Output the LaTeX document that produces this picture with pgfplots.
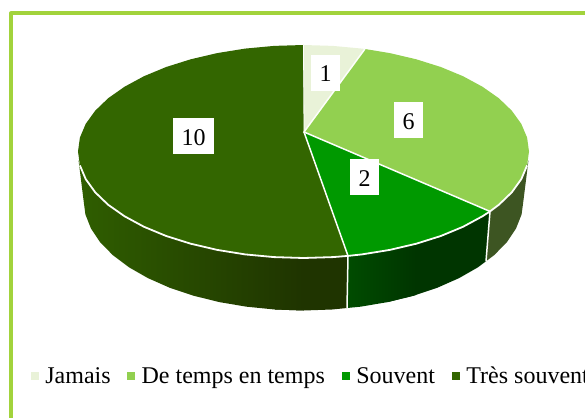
\documentclass[border=0pt]{standalone}
\usepackage{fontspec}
\setmainfont{Liberation Serif}
\usepackage{pgfplots}
\pgfplotsset{compat=1.18}
\definecolor{frame}{HTML}{A2D33C}
\definecolor{cJ}{HTML}{E9F2D8}
\definecolor{cD}{HTML}{92D050}
\definecolor{cS}{HTML}{009900}
\definecolor{cT}{HTML}{336600}
\definecolor{sideD}{HTML}{3D5522}
\definecolor{sideSa}{HTML}{004C00}
\definecolor{sideSb}{HTML}{003500}
\definecolor{sideTa}{HTML}{2F5E00}
\definecolor{sideTb}{HTML}{1F3400}
\begin{document}
\begin{tikzpicture}
\path[use as bounding box,clip] (0,0) rectangle (585pt,417pt);
\begin{axis}[
  at={(0,0)},anchor=south west,
  scale only axis,width=585pt,height=417pt,
  xmin=0,xmax=585,ymin=0,ymax=417,y dir=reverse,
  hide axis,
  legend columns=-1,
  legend cell align=left,
  legend style={at={(0.053,0.0976)},anchor=west,draw=none,fill=none,inner sep=0pt,outer sep=0pt,
    font=\fontsize{24}{28}\selectfont,
    nodes={inner xsep=0pt},
    /tikz/every odd column/.append style={column sep=7pt},
    /tikz/every even column/.append style={column sep=0pt}},
  legend image code/.code={\fill[#1] (0pt,-2.5pt) rectangle (7pt,4.5pt);},
]
% frame
\addplot[forget plot,frame,line width=4pt,line join=round,no marks] coordinates {(11,420)(11,13.4)(590,13.4)};

% side: Tres souvent
\addplot[forget plot,fill=sideTb,draw=none,no marks] coordinates {
(274.1,257.1)(303.5,258.0)(332.9,257.1)(348,255.9)(347,308)(332.2,309.5)(303.5,310.5)(274.8,309.5)};
\addplot[forget plot,left color=sideTa,right color=sideTb,draw=none,no marks] coordinates {
(78.5,160)(83.5,200.0)(85.4,214.4)(91.0,228.6)(100.2,242.3)(113.0,255.3)(129.0,267.3)(147.9,278.1)(169.6,287.7)(193.5,295.7)(219.3,302.1)(246.6,306.7)(274.8,309.5)(303.5,310.5)
(303.5,258.0)(274.1,257.1)(245.1,254.4)(217.2,249.9)(190.7,243.7)(166.2,236.0)(144.0,226.8)(124.6,216.3)(108.2,204.8)(95.2,192.3)(85.7,179.1)(79.9,165.4)};
% side: Souvent
\addplot[forget plot,fill=sideSb,draw=none,no marks] coordinates {
(389.8,249.9)(416.3,243.7)(440.8,236.0)(463.0,226.8)(482.4,216.3)(490,211.4)(486,261.3)(478.0,267.3)(459.1,278.1)(437.4,287.7)(413.5,295.7)(387.7,302.1)};
\addplot[forget plot,left color=sideSa,right color=sideSb,draw=none,no marks] coordinates {
(348,255.9)(361.9,254.4)(389.8,249.9)(416.3,243.7)(416.3,294.9)(413.5,295.7)(387.7,302.1)(360.4,306.7)(347,308)};
% side: De temps en temps
\addplot[forget plot,fill=sideD,draw=none,no marks] coordinates {
(490,211.4)(498.8,204.8)(511.8,192.3)(521.3,179.1)(527.1,165.4)(528.5,160)(523.5,200.0)(521.6,214.4)(516.0,228.6)(506.8,242.3)(494.0,255.3)(486,261.3)};

% top: Tres souvent
\addplot[forget plot,fill=cT,draw=none,no marks] coordinates {
(304,132)(348,255.9)(332.9,257.1)(303.5,258.0)(274.1,257.1)(245.1,254.4)(217.2,249.9)(190.7,243.7)(166.2,236.0)(144.0,226.8)(124.6,216.3)(108.2,204.8)(95.2,192.3)(85.7,179.1)(79.9,165.4)(78.0,151.5)
(79.9,137.6)(85.7,123.9)(95.2,110.7)(108.2,98.2)(124.6,86.7)(144.0,76.2)(166.2,67.0)(190.7,59.3)(217.2,53.1)(245.1,48.6)(274.1,45.9)(303.5,45.0)};
% top: Jamais
\addplot[forget plot,fill=cJ,draw=none,no marks] coordinates {
(304,132)(303.5,45.0)(332.9,45.9)(361.9,48.6)(364.9,49.0)};
% top: De temps en temps
\addplot[forget plot,fill=cD,draw=none,no marks] coordinates {
(304,132)(364.9,49.0)(389.8,53.1)(416.3,59.3)(440.8,67.0)(463.0,76.2)(482.4,86.7)(498.8,98.2)(511.8,110.7)(521.3,123.9)(527.1,137.6)(529.0,151.5)(527.1,165.4)(521.3,179.1)(511.8,192.3)(498.8,204.8)(490,211.4)};
% top: Souvent
\addplot[forget plot,fill=cS,draw=none,no marks] coordinates {
(304,132)(490,211.4)(482.4,216.3)(463.0,226.8)(440.8,236.0)(416.3,243.7)(389.8,249.9)(361.9,254.4)(348,255.9)};

% white separators
\addplot[forget plot,white!90!cJ,line width=1.8pt,no marks,line join=round] coordinates {
(79.9,165.4)(85.7,179.1)(95.2,192.3)(108.2,204.8)(124.6,216.3)(144.0,226.8)(166.2,236.0)(190.7,243.7)(217.2,249.9)(245.1,254.4)(274.1,257.1)(303.5,258.0)(332.9,257.1)(348,255.9)(361.9,254.4)(389.8,249.9)(416.3,243.7)(440.8,236.0)(463.0,226.8)(482.4,216.3)(490,211.4)(498.8,204.8)(511.8,192.3)(521.3,179.1)(527.1,165.4)};
\addplot[forget plot,white!90!cJ,line width=1.5pt,no marks] coordinates {(364.9,49.0)(304,132)(490,211.4)};
\addplot[forget plot,white!90!cJ,line width=1.5pt,no marks] coordinates {(304,132)(348,255.9)};
\addplot[forget plot,white!90!cJ,line width=0.8pt,no marks] coordinates {(304,132)(303.5,45.0)};
\addplot[forget plot,white!90!cJ,line width=1.5pt,no marks] coordinates {(348,255.9)(347,308)};
\addplot[forget plot,white!90!cJ,line width=1.5pt,no marks] coordinates {(490,211.4)(486,261.3)};

% data labels
\addplot[forget plot,draw=none,no marks,
  nodes near coords,point meta=explicit symbolic,
  nodes near coords align={center},
  every node near coord/.append style={anchor=center,fill=white,text=black,
    font=\fontsize{24}{28}\selectfont,inner xsep=8.5pt,inner ysep=0pt,minimum height=36pt,text height=18pt,text depth=0pt}]
  table[x=x,y=y,meta=v] {
x y v
325.5 73 1
408.5 120 6
364.5 177 2
193.5 136 10
};

\addlegendimage{cJ}\addlegendentry{Jamais\hspace*{16.5pt}}
\addlegendimage{cD}\addlegendentry{De temps en temps\hspace*{17pt}}
\addlegendimage{cS}\addlegendentry{Souvent\hspace*{17pt}}
\addlegendimage{cT}\addlegendentry{Très souvent}
\end{axis}
\end{tikzpicture}
\end{document}
